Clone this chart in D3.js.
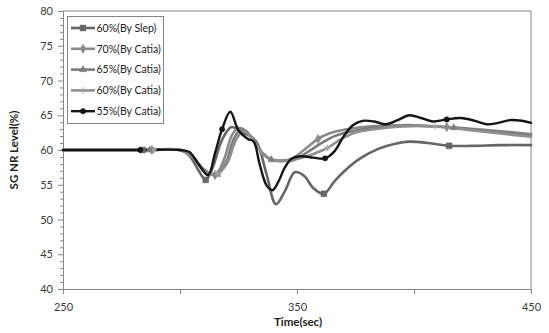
<!DOCTYPE html>
<html>
<head>
<meta charset="utf-8">
<script src="https://cdn.jsdelivr.net/npm/d3@7"></script>
<style>
  html, body { margin: 0; padding: 0; background: #fff; }
  svg { display: block; font-family: Lato, "Open Sans", sans-serif; }
</style>
</head>
<body>
<svg id="chart" width="549" height="333"></svg>
<script>
// ---- data ----------------------------------------------------------------
const seriesNames = ["60%(By Slep)", "70%(By Catia)", "65%(By Catia)", "60%(By Catia)", "55%(By Catia)"];

const slepT = [250, 284, 300, 304, 308, 311, 314, 318, 322, 326, 330, 333, 337, 341, 345, 349, 353, 357, 361.5, 366, 371, 377, 385, 392, 398, 406, 415, 425, 437, 450];
const slepV = [60, 60, 60, 59.2, 57.0, 55.7, 57.5, 61.5, 63.3, 62.6, 62.0, 61.0, 56.5, 52.2, 54.2, 56.8, 56.3, 54.5, 53.7, 55.5, 57.2, 58.8, 60.2, 60.9, 61.2, 61.0, 60.6, 60.6, 60.7, 60.7];
const slepMarks = [284, 311, 361.5, 415];

const c70T = [250, 288, 300, 305, 310, 315, 319, 322, 325, 328, 331, 334, 338, 343, 348, 353, 359, 364, 370, 378, 388, 398, 414, 430, 450];
const c70V = [60, 60, 60, 59.2, 57.3, 56.4, 58.8, 62.0, 63.2, 62.8, 61.6, 60.0, 58.8, 58.5, 58.8, 60.0, 61.6, 62.4, 62.9, 63.3, 63.5, 63.6, 63.3, 62.9, 62.3];
const c70Marks = [288, 315, 359, 414];

const c65T = [250, 287, 300, 305, 310, 316, 320, 323, 326, 329, 332, 335, 339, 344, 349, 354, 361, 366, 372, 380, 390, 400, 417, 432, 450];
const c65V = [60, 60, 60, 59.2, 57.2, 56.5, 58.5, 61.6, 62.9, 62.4, 61.2, 59.7, 58.6, 58.4, 58.6, 59.6, 61.1, 62.0, 62.6, 63.1, 63.4, 63.5, 63.2, 62.7, 62.1];
const c65Marks = [287, 316, 339, 417];

const c60T = [250, 289, 300, 305, 310, 316, 320, 324, 327, 330, 333, 336, 340, 345, 350, 356, 363, 369, 375, 383, 395, 409, 425, 450];
const c60V = [60, 60, 60, 59.1, 57.1, 56.6, 58.0, 61.5, 62.7, 62.0, 60.6, 59.2, 58.5, 58.5, 58.7, 59.3, 60.3, 61.6, 62.5, 63.0, 63.4, 63.4, 62.8, 61.9];
const c60Marks = [289, 316, 363, 409];

const c55T = [250, 283, 300, 304, 308, 312, 315, 318, 321.5, 325, 329, 331.5, 334, 337, 339.5, 342, 345, 348, 352, 357, 362, 366, 370, 374, 378, 383, 388, 393, 398, 403, 408, 414, 420, 426, 431, 436, 441, 446, 450];
const c55V = [60, 60, 60, 59.7, 57.9, 56.4, 59.6, 63.0, 65.5, 62.8, 61.6, 61.2, 58.0, 54.9, 54.2, 55.4, 57.6, 58.8, 59.1, 58.9, 58.8, 59.8, 62.0, 63.6, 64.2, 64.1, 63.7, 64.3, 65.0, 64.6, 64.1, 64.4, 64.6, 64.2, 63.7, 63.9, 64.3, 64.2, 63.9];
const c55Marks = [283, 318, 362, 414];

const yTickValues = [40, 45, 50, 55, 60, 65, 70, 75, 80];
const xTickValues = [250, 300, 350, 400, 450];
const xTickLabels = ["250", "", "350", "", "450"];

// ---- styling per series ----------------------------------------------------
const seriesStyle = [
  { color: "#666666", symbol: d3.symbolSquare,   size: 34, width: 2.6 },
  { color: "#8a8a8a", symbol: d3.symbolDiamond,  size: 26, width: 2.6 },
  { color: "#7c7c7c", symbol: d3.symbolTriangle, size: 22, width: 2.6 },
  { color: "#8f8f8f", symbol: d3.symbolAsterisk, size: 26, width: 2.6 },
  { color: "#151515", symbol: d3.symbolCircle,   size: 22, width: 2.4 }
];

const seriesData = [
  [slepT, slepV, slepMarks],
  [c70T, c70V, c70Marks],
  [c65T, c65V, c65Marks],
  [c60T, c60V, c60Marks],
  [c55T, c55V, c55Marks]
].map(([t, v, m], i) => ({
  name: seriesNames[i],
  points: t.map((tt, k) => ({ t: tt, v: v[k] })),
  marks: m,
  style: seriesStyle[i]
}));

// ---- layout --------------------------------------------------------------
const svg = d3.select("#chart");
const plot = { left: 63, right: 531, top: 11, bottom: 289 };

const x = d3.scaleLinear().domain([250, 450]).range([plot.left, plot.right]);
const y = d3.scaleLinear().domain([40, 80]).range([plot.bottom, plot.top]);

const axisColor = "#858585";

// plot frame (top and right edges)
svg.append("path")
  .attr("d", `M${plot.left},${plot.top}H${plot.right}V${plot.bottom}`)
  .attr("fill", "none")
  .attr("stroke", axisColor)
  .attr("stroke-width", 1);

// y axis: major ticks with labels, minor ticks every unit
const yAxis = d3.axisLeft(y).tickValues(yTickValues).tickSize(5).tickPadding(5).tickFormat(d3.format("d"));
const gy = svg.append("g").attr("transform", `translate(${plot.left},0)`).call(yAxis);
const yMinor = d3.axisLeft(y).tickValues(d3.range(40, 81, 1).filter(v => v % 5 !== 0)).tickSize(3).tickFormat("");
const gyMinor = svg.append("g").attr("transform", `translate(${plot.left},0)`).call(yMinor);
gyMinor.select(".domain").remove();

// x axis
const xAxis = d3.axisBottom(x).tickValues(xTickValues).tickSize(5).tickPadding(9)
  .tickFormat((d, i) => xTickLabels[i]);
const gx = svg.append("g").attr("transform", `translate(0,${plot.bottom})`).call(xAxis);

[gy, gyMinor, gx].forEach(g => {
  g.selectAll(".domain, line").attr("stroke", axisColor);
  g.selectAll("text").attr("fill", "#3a3a3a").style("font-size", "11px").style("font-family", "Lato, 'Open Sans', sans-serif");
});

// axis titles
svg.append("text")
  .attr("x", (plot.left + plot.right) / 2 + 1)
  .attr("y", 326)
  .attr("text-anchor", "middle")
  .attr("font-weight", "bold")
  .attr("font-size", 11.5)
  .attr("fill", "#222")
  .text("Time(sec)");

svg.append("text")
  .attr("transform", `translate(18,${(plot.top + plot.bottom) / 2}) rotate(-90)`)
  .attr("text-anchor", "middle")
  .attr("font-weight", "bold")
  .attr("font-size", 11.5)
  .attr("fill", "#222")
  .text("SG NR Level(%)");

// ---- series ----------------------------------------------------------------
const line = d3.line()
  .x(d => x(d.t))
  .y(d => y(d.v))
  .curve(d3.curveCatmullRom.alpha(0.5));

const gSeries = svg.append("g");
seriesData.forEach(s => {
  gSeries.append("path")
    .datum(s.points)
    .attr("d", line)
    .attr("fill", "none")
    .attr("stroke", s.style.color)
    .attr("stroke-width", s.style.width)
    .attr("stroke-linejoin", "round")
    .attr("stroke-linecap", "round");
});

function drawMarker(g, style, cx, cy) {
  const sym = d3.symbol().type(style.symbol).size(style.size);
  const m = g.append("path")
    .attr("d", sym())
    .attr("transform", `translate(${cx},${cy})`);
  if (style.symbol === d3.symbolAsterisk) {
    m.attr("fill", "none").attr("stroke", "#a8a8a8").attr("stroke-width", 1.1);
  } else {
    m.attr("fill", style.color).attr("stroke", style.color).attr("stroke-width", 0.5);
  }
}

seriesData.forEach(s => {
  s.points.filter(p => s.marks.includes(p.t)).forEach(p => {
    drawMarker(gSeries, s.style, x(p.t), y(p.v));
  });
});

// ---- legend ----------------------------------------------------------------
const legend = svg.append("g").attr("transform", "translate(67,16)");
legend.append("rect")
  .attr("x", 0.5).attr("y", 0.5)
  .attr("width", 96).attr("height", 107)
  .attr("fill", "#fff")
  .attr("stroke", axisColor);

seriesData.forEach((s, i) => {
  const ly = 12 + i * 20.8;
  legend.append("line")
    .attr("x1", 4).attr("x2", 28)
    .attr("y1", ly).attr("y2", ly)
    .attr("stroke", s.style.color)
    .attr("stroke-width", s.style.width);
  drawMarker(legend, s.style, 16, ly);
  legend.append("text")
    .attr("x", 29.5)
    .attr("y", ly + 3.8)
    .attr("font-size", 10.5)
    .attr("fill", "#222")
    .text(s.name);
});
</script>
</body>
</html>
